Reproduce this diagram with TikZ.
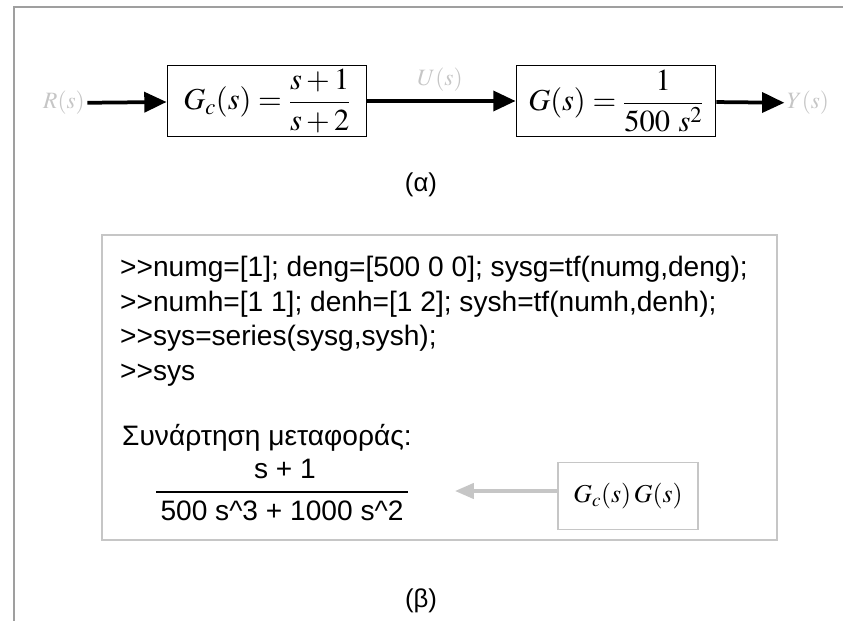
\documentclass[tikz,border=0pt]{standalone}
\usepackage{amsmath}
\usepackage{mathptmx}
\usepackage{fontspec}
\setmainfont{Liberation Sans}
\usetikzlibrary{arrows.meta,positioning}

\tikzset{
  block/.style={draw, line width=1.6pt, minimum width=5.97cm, minimum height=2.13cm, inner sep=0pt, font=\fontsize{26}{30}\selectfont},
  sig/.style={text=gray!45, inner sep=2pt, font=\fontsize{20}{24}\selectfont},
  flow/.style={line width=3.2pt, -{Triangle[length=19pt,width=17pt]}},
  code/.style={anchor=base west, inner sep=0pt, font=\fontsize{24}{29}\selectfont},
  pale/.style={draw=gray!45, line width=0.9pt},
}

\begin{document}
\begin{tikzpicture}[x=0.03cm,y=-0.03cm]
\useasboundingbox (0,0) rectangle (843,621);
% page frame
\draw[gray!75, line width=2pt] (14,621) -- (14,7) -- (843,7);

% (a) series connection
\node[sig] (R) at (64,103) {$R(s)$};
\node[block] (Gc) at (267,101) {$G_c(s) = \dfrac{s+1}{s+2}$};
\node[block] (G) at (616,101) {$G(s) = \dfrac{1}{500\ s^2}$};
\node[sig] (Y) at (808,103) {$Y(s)$};
\node[sig] (U) at (440,80) {$U(s)$};

\draw[flow] (R) -- (Gc);
\draw[flow] (Gc) -- (G);
\draw[flow] (G) -- (Y);

\node[font=\fontsize{22}{26}\selectfont] (capa) at (421,185) {(α)};

% (b) MATLAB session
\draw[pale] (102,235) rectangle (777,540);
\node[code] (l1) at (120,276) {>\kern0pt>numg=[1]; deng=[500 0 0]; sysg=tf(numg,deng);};
\node[code] (l2) at (120,311) {>\kern0pt>numh=[1 1]; denh=[1 2]; sysh=tf(numh,denh);};
\node[code] (l3) at (120,345) {>\kern0pt>sys=series(sysg,sysh);};
\node[code] (l4) at (120,380) {>\kern0pt>sys};

\node[code] (tfname) at (122,445) {Συνάρτηση μεταφοράς:};
\node[font=\fontsize{24}{29}\selectfont] (num) at (285,469) {s + 1};
\node[font=\fontsize{24}{29}\selectfont] (den) at (282,511) {500 s\^{}3 + 1000 s\^{}2};
\draw[line width=1.4pt] ([yshift=4pt]den.north west) -- ([yshift=4pt]den.north east);

\node[pale, minimum width=4.2cm, minimum height=2cm, font=\fontsize{22}{26}\selectfont] (GcG) at (628,496) {$G_c(s)\,G(s)$};
\coordinate (tip) at (455,491);
\draw[gray!45, line width=2.8pt, -{Triangle[length=16pt,width=13pt]}] (GcG.west |- tip) -- (tip);

\node[font=\fontsize{22}{26}\selectfont] (capb) at (421,601) {(β)};
\end{tikzpicture}
\end{document}
